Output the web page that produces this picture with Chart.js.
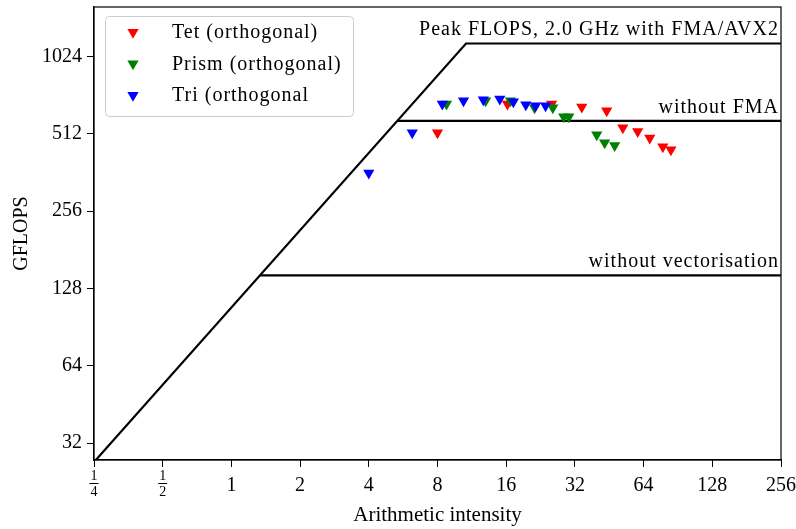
<!DOCTYPE html>
<html>
<head>
<meta charset="utf-8">
<script src="https://cdn.jsdelivr.net/npm/chart.js@4"></script>
<style>
  html, body { margin: 0; padding: 0; background: #fff; }
  #wrap { width: 796px; height: 529px; }
</style>
</head>
<body>
<div id="wrap"><canvas id="roofline" width="796" height="529"></canvas></div>
<script>
// Measured points (arithmetic intensity, GFLOPS)
const tetX = [8.0, 16.2, 25.3, 34.3, 44.1, 51.9, 60.3, 68.1, 77.7, 84.3];
const tetY = [517, 670, 670, 652, 630, 541, 523, 494, 456, 444];
const prismX = [8.76, 13.0, 16.7, 21.3, 25.6, 28.6, 30.1, 39.9, 43.2, 47.8];
const prismY = [670, 689, 689, 647, 647, 597, 597, 508, 473, 461];
const triX = [4.0, 6.2, 8.4, 10.4, 12.7, 15.0, 17.2, 19.5, 21.5, 23.8];
const triY = [361, 517, 670, 689, 695, 701, 683, 665, 659, 659];

// Roofline parameters
const bandwidth = 108;       // GB/s
const peakFma = 1152;        // GFLOPS
const peakNoFma = 576;
const peakScalar = 144;
const xMin = 0.25, xMax = 256;

const xTicks = [0.25, 0.5, 1, 2, 4, 8, 16, 32, 64, 128, 256];
const yTicks = [32, 64, 128, 256, 512, 1024];

const FONT = "'Liberation Serif', 'DejaVu Serif', serif";

const pts = (xs, ys) => xs.map((x, i) => ({ x: x, y: ys[i] }));

function roof(peak, fromOrigin) {
  const ridge = peak / bandwidth;
  const d = fromOrigin ? [{ x: xMin, y: bandwidth * xMin }] : [];
  d.push({ x: ridge, y: peak }, { x: xMax, y: peak });
  return d;
}

const lineStyle = {
  type: 'line', borderColor: '#000', borderWidth: 2.2, pointRadius: 0,
  fill: false, tension: 0, order: 5
};

const marker = (label, xs, ys, color, order) => ({
  type: 'scatter', label: label, data: pts(xs, ys),
  pointStyle: 'triangle', rotation: 180, pointRadius: 6.5,
  backgroundColor: color, borderColor: color, borderWidth: 0, order: order
});

const datasets = [
  Object.assign({ label: 'peak', data: roof(peakFma, true) }, lineStyle),
  Object.assign({ label: 'nofma', data: roof(peakNoFma, false) }, lineStyle),
  Object.assign({ label: 'novec', data: roof(peakScalar, false) }, lineStyle),
  marker('Tet (orthogonal)', tetX, tetY, '#ff0000', 3),
  marker('Prism (orthogonal)', prismX, prismY, '#008000', 2),
  marker('Tri (orthogonal', triX, triY, '#0000ff', 1)
];

const roofLabels = [
  { text: 'Peak FLOPS, 2.0 GHz with FMA/AVX2', y: peakFma },
  { text: 'without FMA', y: peakNoFma },
  { text: 'without vectorisation', y: peakScalar }
];

const fractions = { 0.25: ['1', '4'], 0.5: ['1', '2'] };

// frame, roof labels, fraction tick labels, legend
const extras = {
  id: 'extras',
  afterDatasetsDraw(chart) {
    const { ctx, chartArea: a, scales } = chart;
    ctx.save();
    ctx.strokeStyle = '#000';
    ctx.lineWidth = 1.2;
    ctx.strokeRect(a.left, a.top, a.right - a.left, a.bottom - a.top);

    ctx.fillStyle = '#000';
    ctx.font = '20px ' + FONT;
    ctx.letterSpacing = '1px';
    ctx.textAlign = 'right';
    ctx.textBaseline = 'alphabetic';
    roofLabels.forEach(r => {
      ctx.fillText(r.text, a.right - 2, scales.y.getPixelForValue(r.y) - 8);
    });

    // stacked fractions for 1/4 and 1/2
    ctx.letterSpacing = '0px';
    ctx.font = '14px ' + FONT;
    ctx.textAlign = 'center';
    ctx.textBaseline = 'middle';
    ctx.lineWidth = 1;
    Object.keys(fractions).forEach(k => {
      const f = fractions[k];
      const px = scales.x.getPixelForValue(Number(k));
      const py = 483.5;
      ctx.fillText(f[0], px, py - 7);
      ctx.fillText(f[1], px, py + 9);
      ctx.beginPath();
      ctx.moveTo(px - 4.5, py);
      ctx.lineTo(px + 4.5, py);
      ctx.stroke();
    });

    // legend box
    const bx = 105.5, by = 16.5, bw = 248, bh = 100;
    ctx.beginPath();
    ctx.roundRect(bx, by, bw, bh, 4);
    ctx.fillStyle = 'rgba(255,255,255,0.8)';
    ctx.fill();
    ctx.strokeStyle = '#cccccc';
    ctx.lineWidth = 1;
    ctx.stroke();
    const items = chart.data.datasets.filter(d => d.type === 'scatter');
    ctx.font = '20px ' + FONT;
    ctx.letterSpacing = '1px';
    ctx.textAlign = 'left';
    ctx.textBaseline = 'middle';
    items.forEach((d, i) => {
      const cy = 33 + i * 31.5;
      const cx = 133;
      const r = 6.5;
      ctx.fillStyle = d.backgroundColor;
      ctx.beginPath();
      ctx.moveTo(cx - r * 0.866, cy - r * 0.6);
      ctx.lineTo(cx + r * 0.866, cy - r * 0.6);
      ctx.lineTo(cx, cy + r * 0.9);
      ctx.closePath();
      ctx.fill();
      ctx.fillStyle = '#000';
      ctx.fillText(d.label, 172, cy);
    });
    ctx.restore();
  }
};

new Chart(document.getElementById('roofline'), {
  type: 'scatter',
  data: { datasets: datasets },
  options: {
    responsive: false,
    animation: false,
    layout: { padding: { top: 7, right: 15, left: 0, bottom: 0 } },
    plugins: { legend: { display: false }, tooltip: { enabled: false } },
    scales: {
      x: {
        type: 'logarithmic', min: xMin, max: xMax,
        afterBuildTicks: s => { s.ticks = xTicks.map(v => ({ value: v })); },
        afterFit: s => { s.height = 69; s.paddingLeft = 0; s.paddingRight = 0; },
        grid: { drawOnChartArea: false, drawTicks: true, tickLength: 7, color: '#000', lineWidth: 1 },
        border: { color: '#000', width: 1.2 },
        ticks: {
          color: '#000', padding: 7, autoSkip: false, maxRotation: 0,
          font: { family: FONT, size: 20 },
          callback: v => (v < 1 ? '' : String(v))
        },
        title: { display: true, text: 'Arithmetic intensity', color: '#000',
                 font: { family: FONT, size: 21 }, padding: { top: 0, bottom: 1 } }
      },
      y: {
        type: 'logarithmic', min: 27.5, max: 1598,
        afterBuildTicks: s => { s.ticks = yTicks.map(v => ({ value: v })); },
        afterFit: s => { s.width = 94; s.paddingTop = 0; s.paddingBottom = 0; },
        grid: { drawOnChartArea: false, drawTicks: true, tickLength: 7, color: '#000', lineWidth: 1 },
        border: { color: '#000', width: 1.2 },
        ticks: { color: '#000', padding: 5, font: { family: FONT, size: 20 },
                 callback: v => String(v) },
        title: { display: true, text: 'GFLOPS', color: '#000',
                 font: { family: FONT, size: 20 }, padding: { top: 10, bottom: 0 } }
      }
    }
  },
  plugins: [extras]
});
</script>
</body>
</html>
